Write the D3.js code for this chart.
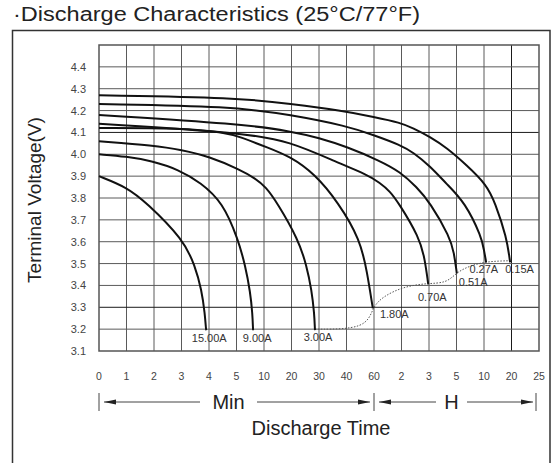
<!DOCTYPE html>
<html>
<head>
<meta charset="utf-8">
<script src="https://cdn.jsdelivr.net/npm/d3@7"></script>
<style>
body { margin: 0; background: #fff; }
text { font-family: "Liberation Sans", Arial, sans-serif; }
</style>
</head>
<body>
<div id="chart-area"></div>
<script>
// time in minutes; the grid columns are evenly spaced, so the scale is piecewise
var timeTicks = [0, 1, 2, 3, 4, 5, 10, 20, 30, 40, 60, 120, 180, 300, 600, 1200, 1500];
var timeLabels = ["0", "1", "2", "3", "4", "5", "10", "20", "30", "40", "60", "2", "3", "5", "10", "20", "25"];
var voltTicks = [3.1, 3.2, 3.3, 3.4, 3.5, 3.6, 3.7, 3.8, 3.9, 4.0, 4.1, 4.2, 4.3, 4.4];

var currents = ["15.00A", "9.00A", "3.00A", "1.80A", "0.70A", "0.51A", "0.27A", "0.15A"];

// [minutes, volts]
var c1500 = [[0, 3.90], [1, 3.85], [1.72, 3.78], [3.07, 3.61], [3.49, 3.49], [3.73, 3.38], [3.85, 3.27], [3.89, 3.20], [3.9, 3.195]];
var c900 = [[0, 4.00], [1, 3.99], [1.9, 3.97], [2.9, 3.93], [3.7, 3.87], [4.5, 3.78], [5.3, 3.61], [6.6, 3.49], [7.5, 3.37], [7.9, 3.27], [8, 3.20], [8.02, 3.195]];
var c300 = [[0, 4.06], [2, 4.04], [3, 4.02], [4, 3.99], [5.6, 3.93], [8.4, 3.89], [10.7, 3.85], [14.7, 3.78], [22.5, 3.61], [25.5, 3.49], [27.3, 3.38], [28.3, 3.27], [28.5, 3.20], [28.55, 3.195]];
var c180 = [[0, 4.12], [3, 4.12], [4.6, 4.10], [5.6, 4.08], [11.5, 4.03], [19.5, 3.99], [28.5, 3.91], [37, 3.78], [50, 3.61], [55, 3.46], [59, 3.30], [59.2, 3.295]];
var c070 = [[0, 4.14], [5.6, 4.10], [19.5, 4.06], [37, 3.96], [54, 3.91], [73, 3.87], [95, 3.83], [113, 3.78], [159, 3.62], [171, 3.52], [178, 3.41], [178.5, 3.405]];
var c051 = [[0, 4.18], [5.6, 4.14], [20, 4.105], [30, 4.075], [40, 4.035], [73, 3.97], [117, 3.92], [153, 3.85], [184, 3.78], [272, 3.62], [289, 3.55], [302, 3.46], [303, 3.455]];
var c027 = [[0, 4.23], [4.8, 4.22], [20, 4.18], [40, 4.13], [62, 4.086], [117, 4.043], [146, 4.008], [184, 3.946], [257, 3.864], [393, 3.78], [575, 3.62], [600, 3.56], [644, 3.51], [647, 3.505]];
var c015 = [[0, 4.27], [5, 4.26], [20, 4.23], [38, 4.20], [62, 4.17], [117, 4.145], [145, 4.12], [184, 4.08], [257, 4.03], [411, 3.95], [659, 3.86], [840, 3.78], [1095, 3.62], [1167, 3.51], [1170, 3.505]];

// dotted end-of-discharge line
var endLine = [[28.5, 3.20], [54.7, 3.20], [58.8, 3.30], [80, 3.35], [124, 3.394], [175, 3.41], [257, 3.41], [302, 3.46], [447, 3.49], [659, 3.51], [1167, 3.513]];

var series = [c1500, c900, c300, c180, c070, c051, c027, c015];

var W = 558, H = 463;
var plot = { left: 99, top: 45, width: 440, height: 306 };

var svg = d3.select("#chart-area")
  .append("svg")
  .attr("width", W)
  .attr("height", H)
  .style("display", "block");

var x = d3.scaleLinear()
  .domain(timeTicks)
  .range(timeTicks.map(function(d, i) {
    return plot.left + i * plot.width / (timeTicks.length - 1);
  }));

var y = d3.scaleLinear()
  .domain([3.1, 4.5])
  .range([plot.top + plot.height, plot.top]);

// outer frame (open at the bottom)
svg.append("path")
  .attr("d", "M12.5," + H + "V30.5H550V" + H)
  .attr("fill", "none")
  .attr("stroke", "#333")
  .attr("stroke-width", 1.5);

// title
svg.append("text")
  .attr("x", 13)
  .attr("y", 21)
  .attr("font-size", "20px")
  .attr("fill", "#222")
  .attr("textLength", 407)
  .attr("lengthAdjust", "spacingAndGlyphs")
  .text("\u00b7Discharge Characteristics  (25\u00b0C/77\u00b0F)");

// grid
var darkV = [1200];
var darkH = [3.3, 4.1];

svg.append("g")
  .selectAll("line")
  .data(timeTicks.slice(1, -1))
  .enter()
  .append("line")
  .attr("x1", d => x(d))
  .attr("x2", d => x(d))
  .attr("y1", plot.top)
  .attr("y2", plot.top + plot.height)
  .attr("stroke", d => darkV.indexOf(d) >= 0 ? "#1a1a1a" : "#5a5a5a")
  .attr("stroke-width", 1);

svg.append("g")
  .selectAll("line")
  .data(voltTicks.slice(1))
  .enter()
  .append("line")
  .attr("x1", plot.left)
  .attr("x2", plot.left + plot.width)
  .attr("y1", d => y(d))
  .attr("y2", d => y(d))
  .attr("stroke", d => darkH.indexOf(d) >= 0 ? "#1a1a1a" : "#5a5a5a")
  .attr("stroke-width", 1);

svg.append("rect")
  .attr("x", plot.left)
  .attr("y", plot.top)
  .attr("width", plot.width)
  .attr("height", plot.height)
  .attr("fill", "none")
  .attr("stroke", "#555")
  .attr("stroke-width", 1.5);

// y tick labels
svg.append("g")
  .selectAll("text")
  .data(voltTicks)
  .enter()
  .append("text")
  .attr("x", 86)
  .attr("y", d => y(d) + 4)
  .attr("text-anchor", "end")
  .attr("font-size", "11px")
  .attr("fill", "#444")
  .text(d => d.toFixed(1));

// x tick labels
svg.append("g")
  .selectAll("text")
  .data(timeTicks)
  .enter()
  .append("text")
  .attr("x", d => x(d))
  .attr("y", 380)
  .attr("text-anchor", "middle")
  .attr("font-size", "10.5px")
  .attr("fill", "#444")
  .text((d, i) => timeLabels[i]);

// y axis title
svg.append("text")
  .attr("transform", "translate(41,200) rotate(-90)")
  .attr("text-anchor", "middle")
  .attr("font-size", "19px")
  .attr("fill", "#222")
  .text("Terminal Voltage(V)");

// curves
var line = d3.line()
  .x(d => x(d[0]))
  .y(d => y(d[1]))
  .curve(d3.curveBasis);

svg.append("path")
  .attr("d", line(endLine))
  .attr("fill", "none")
  .attr("stroke", "#555")
  .attr("stroke-width", 1)
  .attr("stroke-dasharray", "1.5,1.5");

svg.append("g")
  .selectAll("path")
  .data(series)
  .enter()
  .append("path")
  .attr("d", d => line(d))
  .attr("fill", "none")
  .attr("stroke", "#111")
  .attr("stroke-width", 2);

// current labels, placed relative to each curve's end point
var labelOffset = [[3, 12, "middle"], [4, 12, "middle"], [3, 11, "middle"], [7, 10, "start"],
  [4, 17, "middle"], [2, 13, "start"], [12, 11, "end"], [-5, 11, "start"]];

svg.append("g")
  .selectAll("text")
  .data(series)
  .enter()
  .append("text")
  .attr("x", (d, i) => x(d[d.length - 1][0]) + labelOffset[i][0])
  .attr("y", (d, i) => y(d[d.length - 1][1]) + labelOffset[i][1])
  .attr("text-anchor", (d, i) => labelOffset[i][2])
  .attr("font-size", "11px")
  .attr("fill", "#333")
  .text((d, i) => currents[i]);

// Min / H range markers
var rowY = 402;
var ranges = [
  { from: 0, to: 60, name: "Min", gapL: 200, gapR: 257 },
  { from: 60, to: 1500, name: "H", gapL: 436, gapR: 467 }
];

svg.append("g")
  .selectAll("line")
  .data([0, 60, 1500])
  .enter()
  .append("line")
  .attr("x1", d => x(d) - (d === 1500 ? 3 : 0))
  .attr("x2", d => x(d) - (d === 1500 ? 3 : 0))
  .attr("y1", rowY - 9)
  .attr("y2", rowY + 9)
  .attr("stroke", "#444")
  .attr("stroke-width", 1);

ranges.forEach(function(r) {
  var a = x(r.from) + 5;
  var b = x(r.to) - (r.to === 1500 ? 6 : 4);
  svg.append("line")
    .attr("x1", a).attr("x2", r.gapL)
    .attr("y1", rowY).attr("y2", rowY)
    .attr("stroke", "#444").attr("stroke-width", 1);
  svg.append("line")
    .attr("x1", r.gapR).attr("x2", b)
    .attr("y1", rowY).attr("y2", rowY)
    .attr("stroke", "#444").attr("stroke-width", 1);
  svg.append("path")
    .attr("d", "M" + a + "," + rowY + "l12,-2.5v5z")
    .attr("fill", "#222");
  svg.append("path")
    .attr("d", "M" + b + "," + rowY + "l-12,-2.5v5z")
    .attr("fill", "#222");
  svg.append("text")
    .attr("x", (r.gapL + r.gapR) / 2)
    .attr("y", rowY + 7)
    .attr("text-anchor", "middle")
    .attr("font-size", "20px")
    .attr("fill", "#222")
    .text(r.name);
});

svg.append("text")
  .attr("x", 321)
  .attr("y", 435)
  .attr("text-anchor", "middle")
  .attr("font-size", "20px")
  .attr("fill", "#222")
  .text("Discharge Time");
</script>
</body>
</html>
